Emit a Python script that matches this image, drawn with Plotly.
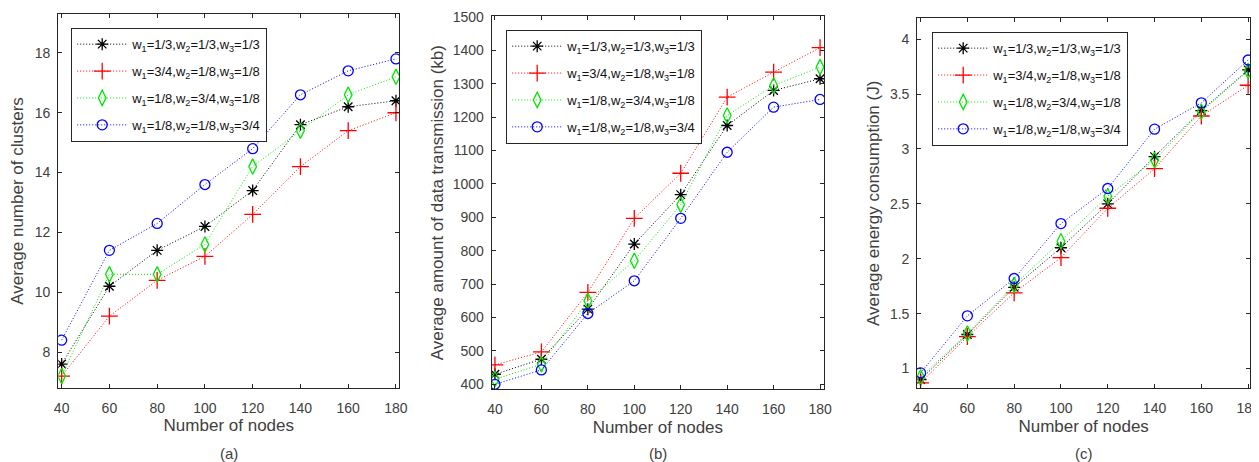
import plotly.graph_objects as go

W, H = 1259, 462
OFF = 8  # page body margin of the browser
FW, FH = W - OFF, H - OFF
nodes = [40, 60, 80, 100, 120, 140, 160, 180]

labels = [
    "w<sub>1</sub>=1/3,w<sub>2</sub>=1/3,w<sub>3</sub>=1/3",
    "w<sub>1</sub>=3/4,w<sub>2</sub>=1/8,w<sub>3</sub>=1/8",
    "w<sub>1</sub>=1/8,w<sub>2</sub>=3/4,w<sub>3</sub>=1/8",
    "w<sub>1</sub>=1/8,w<sub>2</sub>=1/8,w<sub>3</sub>=3/4",
]

# (a) average number of clusters
clusters_black = [7.6, 10.2, 11.4, 12.2, 13.4, 15.6, 16.2, 16.4]
clusters_red = [7.2, 9.2, 10.4, 11.2, 12.6, 14.2, 15.4, 16.0]
clusters_green = [7.2, 10.6, 10.6, 11.6, 14.2, 15.4, 16.6, 17.2]
clusters_blue = [8.4, 11.4, 12.3, 13.6, 14.8, 16.6, 17.4, 17.8]

# (b) average amount of data transmission (kb)
data_black = [430, 475, 625, 820, 968, 1175, 1280, 1315]
data_red = [458, 497, 675, 897, 1032, 1260, 1335, 1408]
data_green = [415, 460, 650, 770, 938, 1205, 1295, 1350]
data_blue = [400, 443, 612, 710, 897, 1095, 1230, 1253]

# (c) average energy consumption (J)
energy_black = [0.90, 1.31, 1.74, 2.10, 2.50, 2.93, 3.35, 3.72]
energy_red = [0.87, 1.29, 1.69, 2.01, 2.46, 2.82, 3.30, 3.58]
energy_green = [0.92, 1.32, 1.76, 2.16, 2.57, 2.90, 3.34, 3.71]
energy_blue = [0.96, 1.48, 1.82, 2.32, 2.64, 3.18, 3.42, 3.81]

colors = ["#000000", "#ff0000", "#00e600", "#0000ff"]
symbols = ["asterisk-open", "cross-thin-open", "diamond-tall-open", "circle-open"]
msizes = [10, 12, 11, 10]

panels = [
    dict(series=[clusters_black, clusters_red, clusters_green, clusters_blue],
         px=(58.3, 399.3), py=(14, 388), yr=[6.8, 19.3],
         yt=[8, 10, 12, 14, 16, 18], ytitle="Average number of clusters",
         xr=[38.6, 181.4], leg=(71, 28), tag="(a)", standoff=6),
    dict(series=[data_black, data_red, data_green, data_blue],
         px=(491.7, 824), py=(16, 389.3), yr=[385, 1503],
         yt=[400, 500, 600, 700, 800, 900, 1000, 1100, 1200, 1300, 1400, 1500],
         ytitle="Average amount of data transmission (kb)",
         xr=[38.6, 181.7], leg=(506, 30), tag="(b)", standoff=4),
    dict(series=[energy_black, energy_red, energy_green, energy_blue],
         px=(917.3, 1250), py=(18.3, 388.3), yr=[0.82, 4.19],
         yt=[1, 1.5, 2, 2.5, 3, 3.5, 4], ytitle="Average energy consumption (J)",
         xr=[38.6, 180.8], leg=(932, 32), tag="(c)", standoff=5),
]


def fx(px):
    return (px - OFF) / FW


def fy(py):
    return 1 - (py - OFF) / FH


fig = go.Figure()
font = "Liberation Sans, Arial, sans-serif"
axcol = "#404040"
annotations = []

for i, p in enumerate(panels):
    n = "" if i == 0 else str(i + 1)
    lg = "legend" if i == 0 else f"legend{i + 1}"
    for j, ys in enumerate(p["series"]):
        fig.add_trace(go.Scatter(
            x=nodes, y=ys, mode="lines+markers", name=labels[j],
            xaxis="x" + n, yaxis="y" + n, legend=lg, legendgroup=f"g{i}{j}",
            line=dict(color=colors[j], width=1, dash="1px,2px"),
            marker=dict(symbol=symbols[j], size=msizes[j],
                        line=dict(color=colors[j], width=1.3), color=colors[j]),
        ))
    xd = [fx(p["px"][0]), fx(p["px"][1])]
    yd = [fy(p["py"][1]), fy(p["py"][0])]
    common = dict(showline=True, linecolor="#262626", linewidth=1.2, mirror="ticks",
                  ticks="inside", ticklen=4, tickcolor="#262626", showgrid=False,
                  zeroline=False, automargin=False, ticklabeloverflow="allow",
                  tickfont=dict(family=font, size=14, color=axcol))
    fig.update_layout(**{
        "xaxis" + n: dict(domain=xd, range=p["xr"], tickvals=nodes,
                          anchor="y" + n, ticklabelstandoff=7,
                          title=dict(text="Number of nodes", standoff=4,
                                     font=dict(family=font, size=17, color=axcol)),
                          **common),
        "yaxis" + n: dict(domain=yd, range=p["yr"], tickvals=p["yt"],
                          anchor="x" + n, ticklabelstandoff=4,
                          title=dict(text=p["ytitle"], standoff=p["standoff"],
                                     font=dict(family=font, size=17, color=axcol)),
                          **common),
        lg: dict(x=fx(p["leg"][0]), y=fy(p["leg"][1]), xanchor="left", yanchor="top",
                 bgcolor="white", bordercolor="#262626", borderwidth=1.2,
                 font=dict(family=font, size=13, color="#111111"),
                 tracegroupgap=7, itemwidth=50),
    })
    annotations.append(dict(text=p["tag"], x=(xd[0] + xd[1]) / 2, y=fy(453),
                            xref="paper", yref="paper", showarrow=False,
                            xanchor="center", yanchor="middle",
                            font=dict(family=font, size=15, color=axcol)))

fig.update_layout(width=FW, height=FH, margin=dict(l=0, r=0, t=0, b=0),
                  plot_bgcolor="white", paper_bgcolor="white",
                  showlegend=True, annotations=annotations)

fig.write_html("out.html")
